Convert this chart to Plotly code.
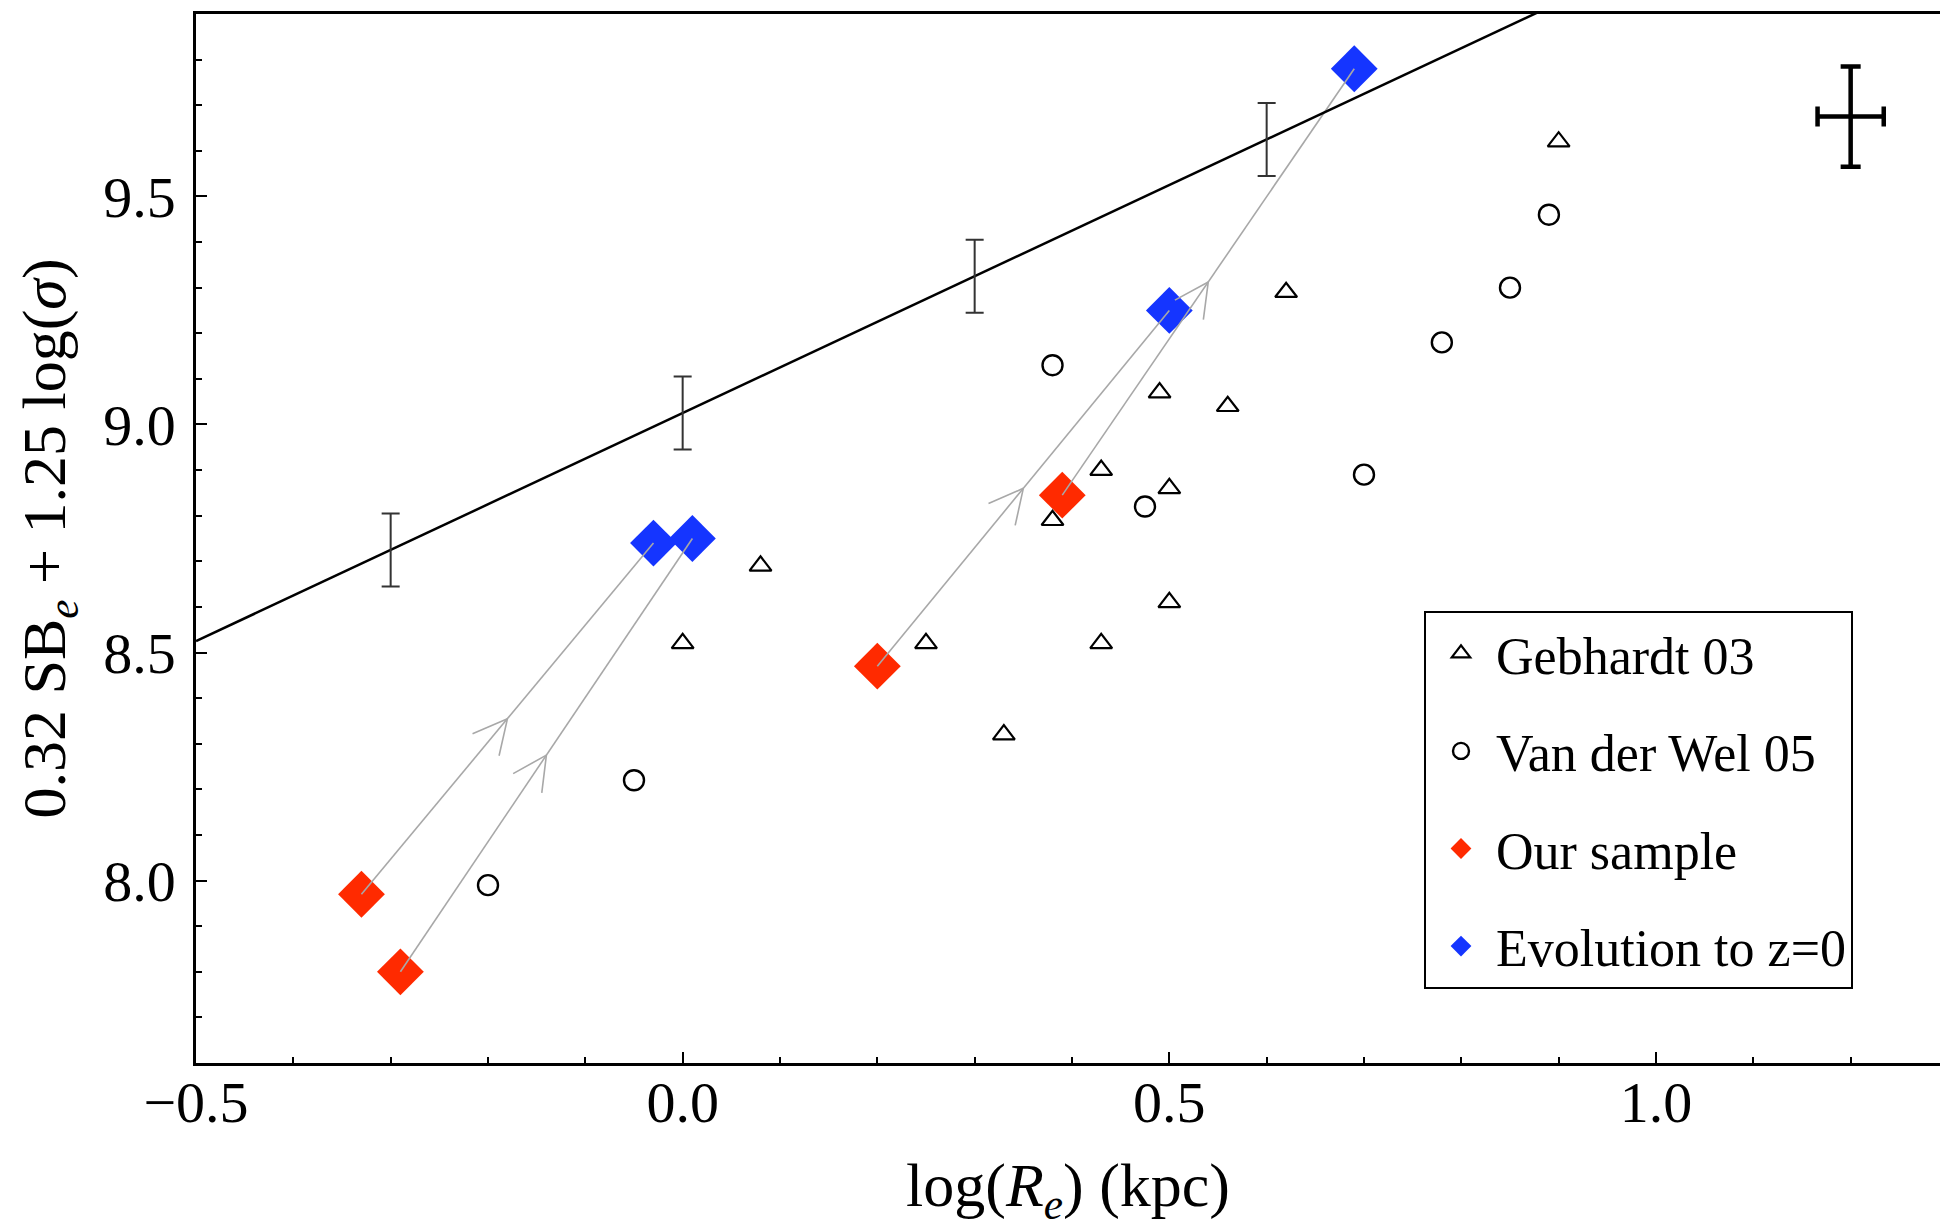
import numpy as np
import plotly.graph_objects as go

# ---------------- data ----------------
geb_x = [0.08, 0.00, 0.25, 0.33, 0.38, 0.43, 0.43, 0.49, 0.50, 0.50, 0.56, 0.62, 0.90]
geb_y = [8.69, 8.52, 8.52, 8.32, 8.79, 8.90, 8.52, 9.07, 8.86, 8.61, 9.04, 9.29, 9.62]

vdw_x = [-0.20, -0.05, 0.38, 0.475, 0.70, 0.78, 0.85, 0.89]
vdw_y = [7.99, 8.22, 9.13, 8.82, 8.89, 9.18, 9.30, 9.46]

our_x = [-0.33, -0.29, 0.20, 0.39]
our_y = [7.97, 7.80, 8.47, 8.845]

evo_x = [-0.03, 0.01, 0.50, 0.69]
evo_y = [8.74, 8.75, 9.25, 9.78]

fp_x = [-0.5, 1.3]
fp_y = [8.525, 10.325]

fp_err_x = [-0.3, 0.0, 0.3, 0.6]
fp_err_y = [8.725, 9.025, 9.325, 9.625]
fp_err = [0.08, 0.08, 0.08, 0.08]

typ_x = [1.20]
typ_y = [9.675]
typ_ex = [0.034]
typ_ey = [0.11]

x_range = [-0.5, 1.2918]
y_range = [7.6, 9.9]

# ---------------- layout geometry ----------------
W, H = 1940, 1228
ML, MR, MT, MB = 196, 0, 14, 165
PW, PH = W - ML - MR, H - MT - MB
sx = PW / (x_range[1] - x_range[0])
sy = PH / (y_range[1] - y_range[0])

FONT = "Liberation Serif, Times New Roman, serif"
RED = "#ff2a00"
BLUE = "#1535ff"
GRAY = "#a8a8a8"

fig = go.Figure()

# diamonds
fig.add_trace(go.Scatter(x=our_x, y=our_y, mode="markers", name="Our sample",
                         legendgroup="c", legendrank=3,
                         marker=dict(symbol="diamond", size=36, color=RED, line=dict(width=0))))
fig.add_trace(go.Scatter(x=evo_x, y=evo_y, mode="markers", name="Evolution to z=0",
                         legendgroup="d", legendrank=4,
                         marker=dict(symbol="diamond", size=36, color=BLUE, line=dict(width=0))))

# evolution tracks (gray lines with open chevrons at their midpoints)
lx, ly, cx, cy = [], [], [], []
half = np.deg2rad(27)
L = 38
for rx, ry, bx, by in zip(our_x, our_y, evo_x, evo_y):
    lx += [rx, bx, None]
    ly += [ry, by, None]
    mx, my = (rx + bx) / 2, (ry + by) / 2
    dx, dy = (bx - rx) * sx, (by - ry) * sy
    n = np.hypot(dx, dy)
    ux, uy = -dx / n, -dy / n
    pts = []
    for a in (half, -half):
        ax = ux * np.cos(a) - uy * np.sin(a)
        ay = ux * np.sin(a) + uy * np.cos(a)
        pts.append((mx + L * ax / sx, my + L * ay / sy))
    cx += [pts[0][0], mx, pts[1][0], None]
    cy += [pts[0][1], my, pts[1][1], None]
fig.add_trace(go.Scatter(x=lx, y=ly, mode="lines", showlegend=False,
                         line=dict(color=GRAY, width=1.6), hoverinfo="skip"))
fig.add_trace(go.Scatter(x=cx, y=cy, mode="lines", showlegend=False,
                         line=dict(color=GRAY, width=1.6), hoverinfo="skip"))

# fundamental plane line + error bars
fig.add_trace(go.Scatter(x=fp_x, y=fp_y, mode="lines", showlegend=False,
                         line=dict(color="black", width=2.5)))
fig.add_trace(go.Scatter(x=fp_err_x, y=fp_err_y, mode="markers", showlegend=False,
                         marker=dict(size=1, color="rgba(0,0,0,0)"),
                         error_y=dict(type="data", array=fp_err, visible=True,
                                      color="#333333", thickness=2, width=9)))

# comparison samples
fig.add_trace(go.Scatter(x=geb_x, y=geb_y, mode="markers", name="Gebhardt 03",
                         legendgroup="a", legendrank=1,
                         marker=dict(symbol="triangle-up-open", size=19, color="black",
                                     line=dict(width=2.2, color="black"))))
fig.add_trace(go.Scatter(x=vdw_x, y=vdw_y, mode="markers", name="Van der Wel 05",
                         legendgroup="b", legendrank=2,
                         marker=dict(symbol="circle-open", size=20, color="black",
                                     line=dict(width=2.4, color="black"))))

# typical error cross
fig.add_trace(go.Scatter(x=typ_x, y=typ_y, mode="markers", showlegend=False,
                         marker=dict(size=1, color="rgba(0,0,0,0)"),
                         error_x=dict(type="data", array=typ_ex, visible=True,
                                      color="black", thickness=4.5, width=10),
                         error_y=dict(type="data", array=typ_ey, visible=True,
                                      color="black", thickness=4.5, width=10)))

axis_common = dict(
    showgrid=False, zeroline=False, showline=True, linecolor="black", linewidth=2.5,
    ticks="inside", ticklen=11, tickwidth=2, tickcolor="black",
    tickfont=dict(family=FONT, size=58, color="black"),
    automargin=False,
)

fig.update_layout(
    width=W, height=H,
    margin=dict(l=ML, r=MR, t=MT, b=MB, pad=0),
    paper_bgcolor="white", plot_bgcolor="white",
    font=dict(family=FONT, color="black"),
    xaxis=dict(range=x_range, dtick=0.5, tick0=0, tickformat=".1f", mirror=True,
               minor=dict(dtick=0.1, ticks="inside", ticklen=6, tickwidth=2, tickcolor="black"),
               title=dict(text="log(<i>R</i><sub><i>e</i></sub>) (kpc)",
                          font=dict(family=FONT, size=62), standoff=58),
               ticklabelstandoff=-13,
               **axis_common),
    yaxis=dict(range=y_range, dtick=0.5, tick0=0, tickformat=".1f", mirror=False,
               minor=dict(dtick=0.1, ticks="inside", ticklen=6, tickwidth=2, tickcolor="black"),
               title=dict(text="0.32 SB<sub><i>e</i></sub> + 1.25 log(<i>σ</i>)",
                          font=dict(family=FONT, size=62), standoff=18),
               ticklabelstandoff=6,
               **axis_common),
    legend=dict(x=(1424 - ML) / PW, y=1 - (611 - MT) / PH, xanchor="left", yanchor="top",
                bgcolor="white", bordercolor="black", borderwidth=2,
                font=dict(family=FONT, size=52, color="black"),
                tracegroupgap=27, itemwidth=60, traceorder="grouped",
                entrywidth=365, entrywidthmode="pixels"),
    showlegend=True,
)

fig.write_html("out.html", config={"displayModeBar": False},
               post_script="document.body.style.margin='0';document.body.style.overflow='hidden';")
